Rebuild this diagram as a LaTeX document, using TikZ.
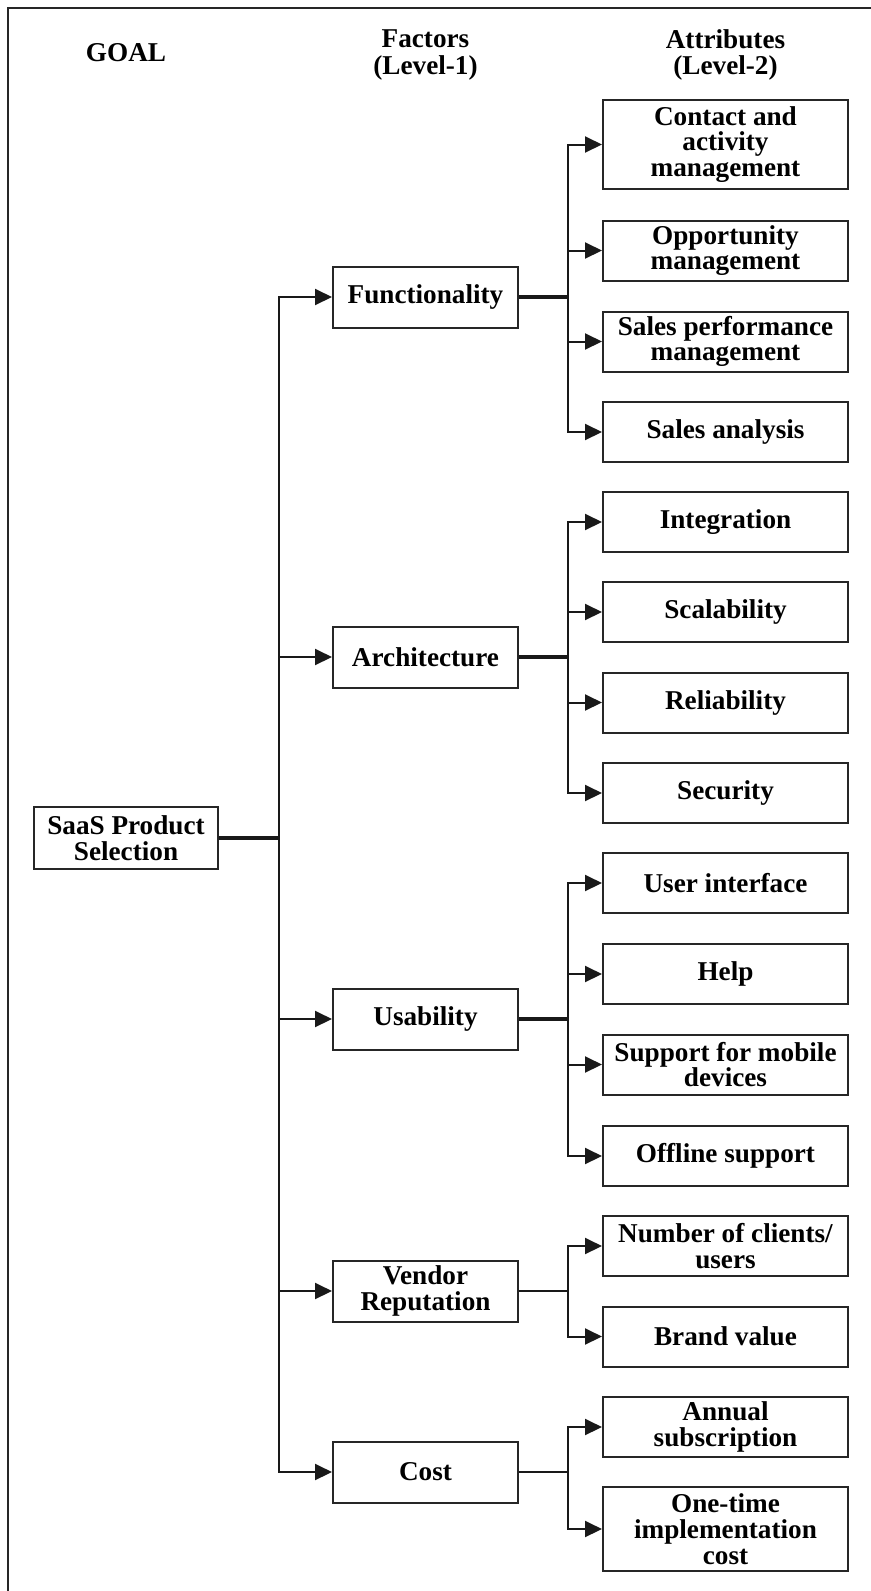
\documentclass[tikz,border=0pt]{standalone}
\usepackage{fontspec}
\setmainfont{Liberation Serif}
\usetikzlibrary{arrows.meta}
\tikzset{
  lbl/.style={font=\bfseries\fontsize{13.6}{12.9}\selectfont, align=center, inner sep=0pt},
  hdr/.style={font=\bfseries\fontsize{13.6}{13.4}\selectfont, align=center, inner sep=0pt},
  box/.style={lbl, draw=black!85, line width=1pt, fill=white, minimum height=30pt},
  gbox/.style={box, minimum width=92pt, minimum height=31pt},
  fbox/.style={box, minimum width=92.5pt, minimum height=30.5pt},
  abox/.style={box, minimum width=122.5pt},
  link/.style={draw=black!90, line width=1pt},
  boldlink/.style={link, line width=1.6pt},
  arr/.style={link, -{Triangle[length=8.5pt,width=8pt]}},
  frameline/.style={draw=black!85, line width=1.4pt}
}
\begin{document}
\begin{tikzpicture}[x=0.5pt,y=-0.5pt]
\useasboundingbox (0,0) rectangle (871,1591);
% frame (cropped)
\coordinate (frTR) at (871,8);
\coordinate (frTL) at (8,8);
\coordinate (frBL) at (8,1591);
\draw[frameline] (frTR) -- (frTL) -- (frBL);

% headers
\node[hdr] (hgoal) at (126,53) {GOAL};
\node[hdr] (hfac) at (425.5,55) {Factors\\(Level-1)};
\node[hdr] (hatt) at (725.5,55) {Attributes\\(Level-2)};

% goal
\node[gbox] (goal) at (126,838) {SaaS Product\\Selection};

% factors
\node[fbox] (f1) at (425.5,297) {Functionality};
\node[fbox] (f2) at (425.5,657) {Architecture};
\node[fbox] (f3) at (425.5,1019) {Usability};
\node[fbox] (f4) at (425.5,1291) {Vendor\\Reputation};
\node[fbox] (f5) at (425.5,1472) {Cost};

% attributes
\node[abox, minimum height=44.5pt] (a1) at (725.5,144.5) {Contact and\\activity\\management};
\node[abox] (a2) at (725.5,250.5) {Opportunity\\management};
\node[abox] (a3) at (725.5,341.5) {Sales performance\\management};
\node[abox] (a4) at (725.5,432) {Sales analysis};
\node[abox] (a5) at (725.5,522) {Integration};
\node[abox] (a6) at (725.5,612) {Scalability};
\node[abox] (a7) at (725.5,702.5) {Reliability};
\node[abox] (a8) at (725.5,793) {Security};
\node[abox] (a9) at (725.5,883) {User interface};
\node[abox] (a10) at (725.5,974) {Help};
\node[abox] (a11) at (725.5,1064.5) {Support for mobile\\devices};
\node[abox] (a12) at (725.5,1156) {Offline support};
\node[abox] (a13) at (725.5,1246) {Number of clients/\\users};
\node[abox] (a14) at (725.5,1336.5) {Brand value};
\node[abox] (a15) at (725.5,1427) {Annual\\subscription};
\node[abox, minimum height=42pt] (a16) at (725.5,1529) {One-time\\implementation\\cost};

% trunk from goal to factors
\coordinate (t) at (279,838);
\draw[boldlink] (goal.east) -- (t);
\foreach \f in {f1,f2,f3,f4,f5}{
  \draw[arr] (t) |- (\f.west);
}

% branches from factors to attributes
\coordinate (b1) at (568,297);
\coordinate (b2) at (568,657);
\coordinate (b3) at (568,1019);
\coordinate (b4) at (568,1291);
\coordinate (b5) at (568,1472);
\draw[boldlink] (f1.east) -- (b1);
\draw[boldlink] (f2.east) -- (b2);
\draw[boldlink] (f3.east) -- (b3);
\draw[link] (f4.east) -- (b4);
\draw[link] (f5.east) -- (b5);
\foreach \a in {a1,a2,a3,a4}{ \draw[arr] (b1) |- (\a.west); }
\foreach \a in {a5,a6,a7,a8}{ \draw[arr] (b2) |- (\a.west); }
\foreach \a in {a9,a10,a11,a12}{ \draw[arr] (b3) |- (\a.west); }
\foreach \a in {a13,a14}{ \draw[arr] (b4) |- (\a.west); }
\foreach \a in {a15,a16}{ \draw[arr] (b5) |- (\a.west); }
\end{tikzpicture}
\end{document}
